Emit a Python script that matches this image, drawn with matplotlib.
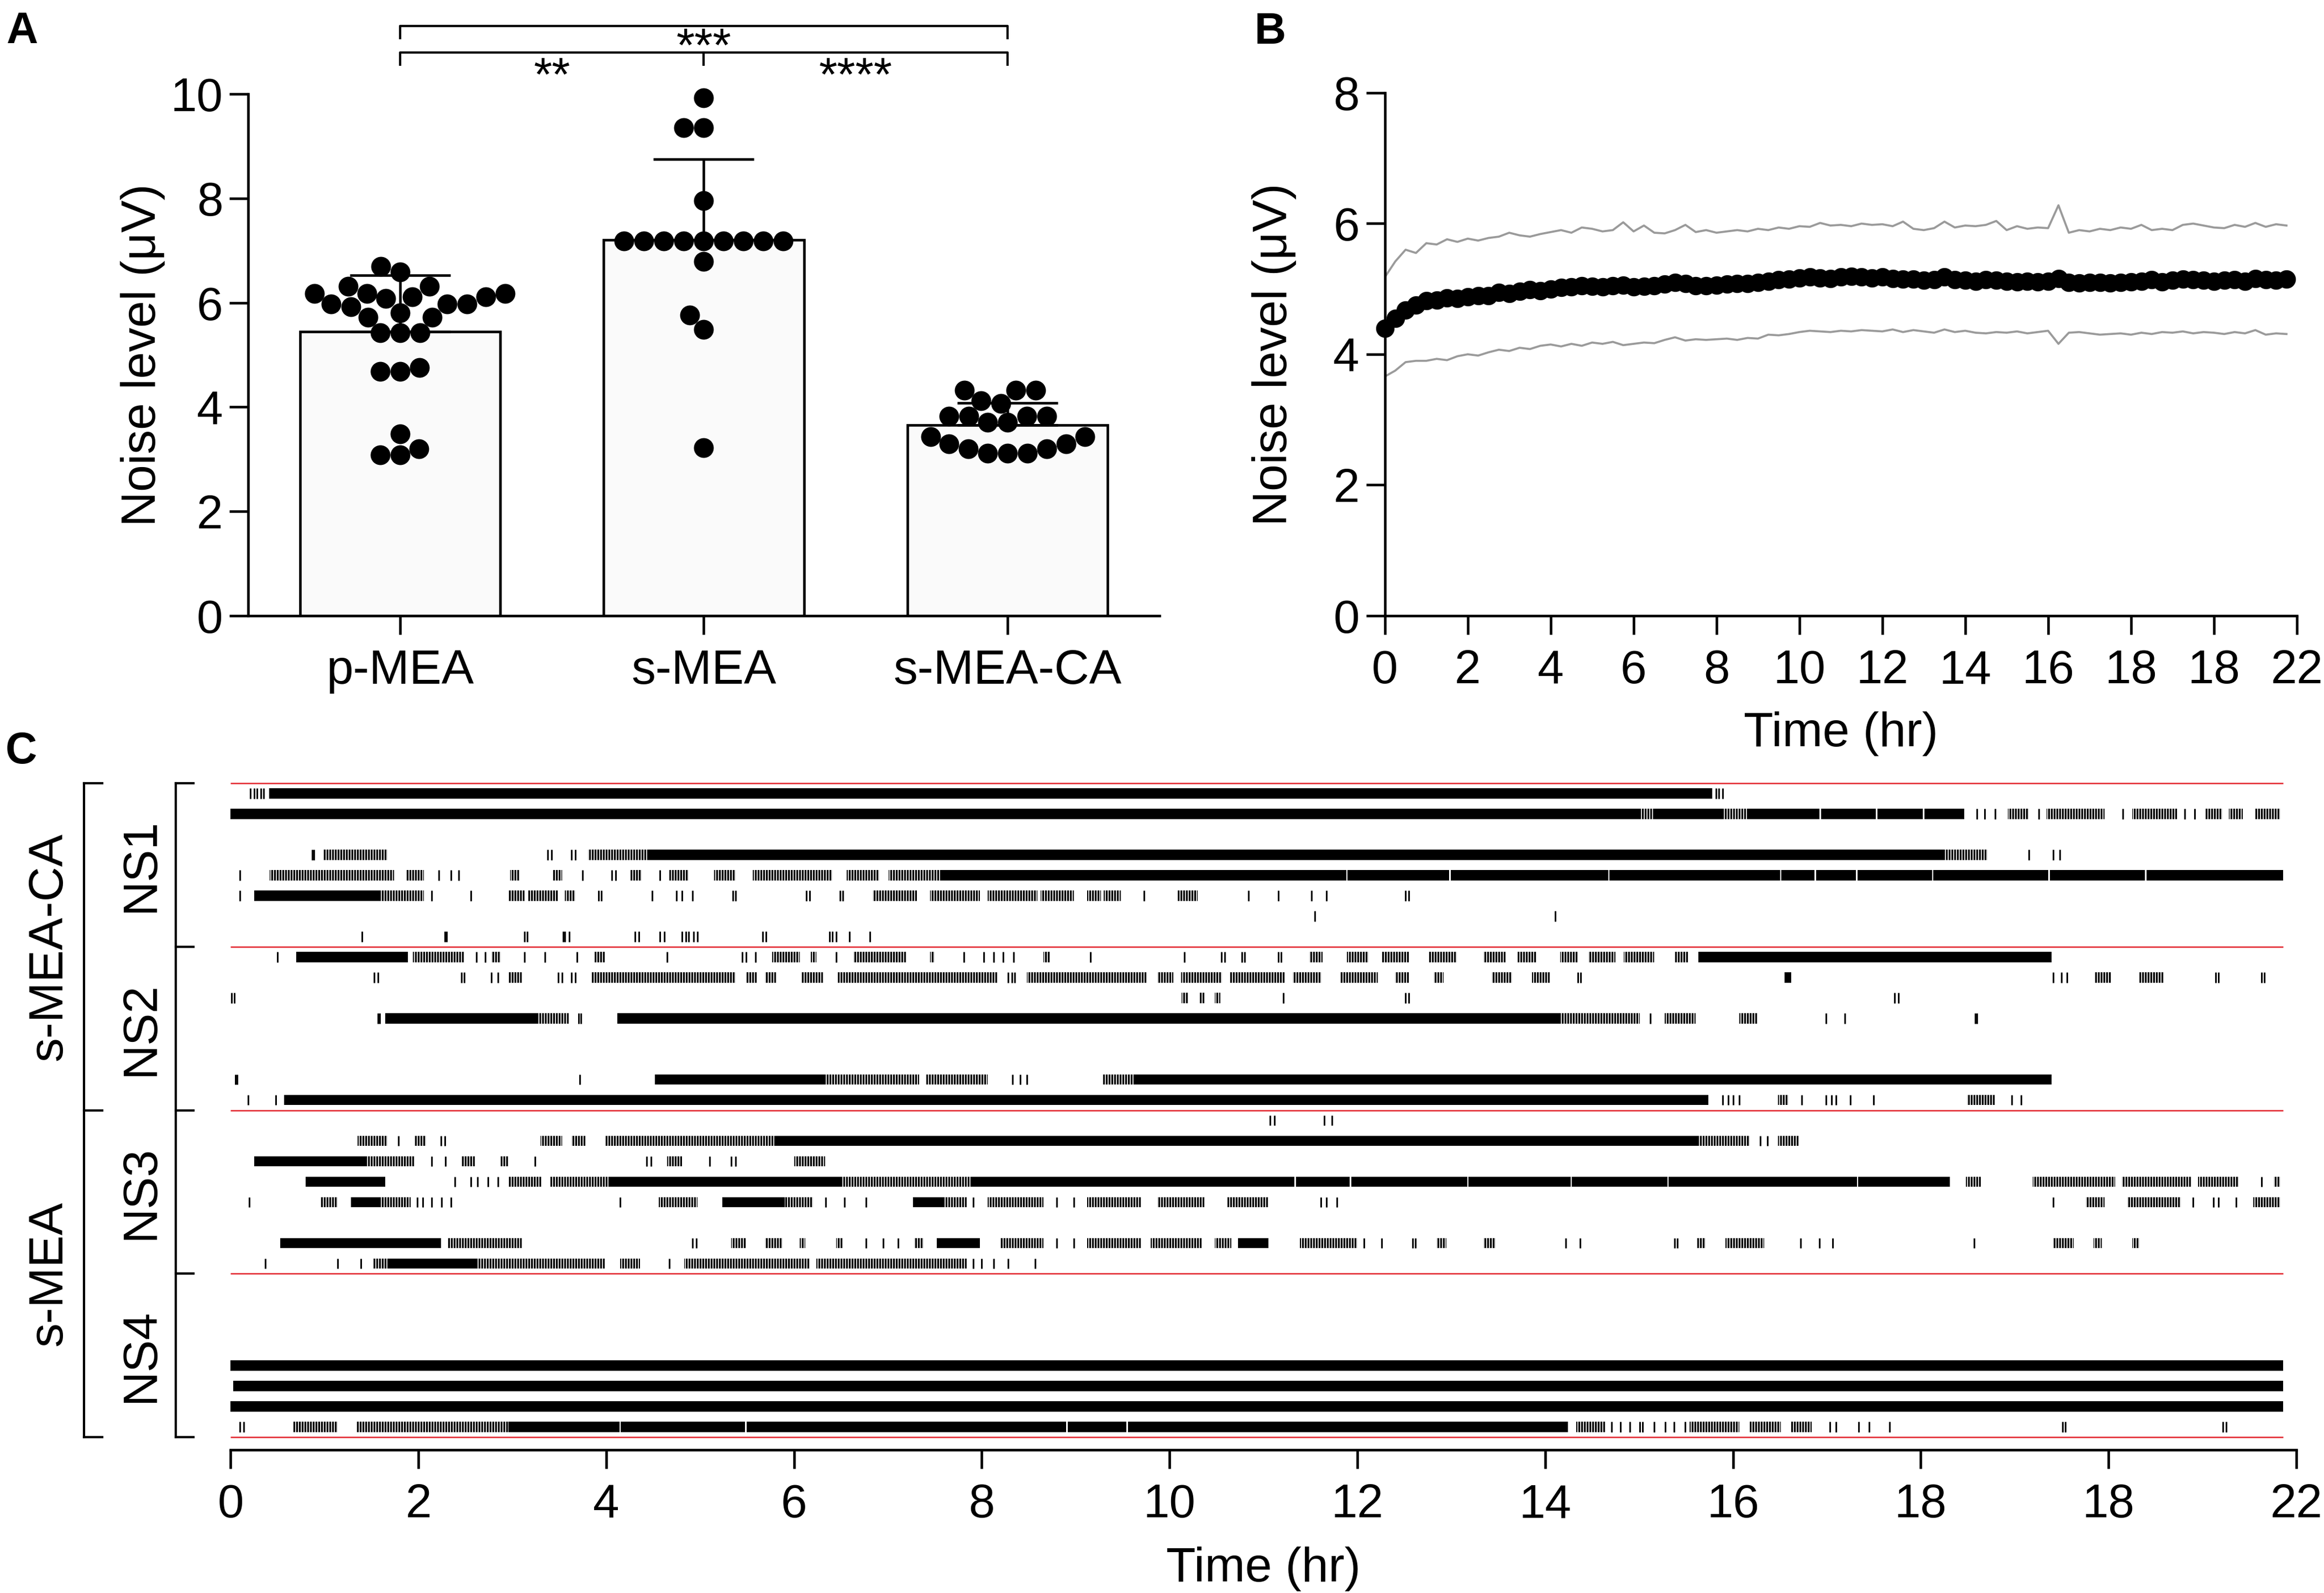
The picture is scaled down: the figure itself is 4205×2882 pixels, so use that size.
import numpy as np
import matplotlib
matplotlib.use("Agg")
import matplotlib.pyplot as plt
from matplotlib.lines import Line2D
import matplotlib.transforms as mtransforms

plt.rcParams['font.family'] = ['Liberation Sans', 'DejaVu Sans']
plt.rcParams['hatch.linewidth'] = 0.8

# ---------------- Panel A data ----------------
groups_a = ['p-MEA', 's-MEA', 's-MEA-CA']
p_mea = [6.70, 6.31, 5.97, 5.92, 6.18, 6.18, 6.11, 6.08, 6.11, 6.18, 6.31, 6.59,
         5.97, 5.97, 5.72, 5.72, 5.81, 5.42, 5.42, 5.42, 4.68, 4.68, 4.76,
         3.20, 3.08, 3.08, 3.48]
s_mea = [9.93, 9.35, 9.35, 7.96, 7.18, 7.18, 7.18, 7.18, 7.18, 7.18, 7.18, 7.18, 7.18,
         6.79, 5.76, 5.49, 3.22]
s_mea_ca = [4.32, 4.32, 4.32, 4.07, 4.12, 3.82, 3.82, 3.82, 3.82, 3.71, 3.71,
            3.43, 3.43, 3.29, 3.29, 3.20, 3.20, 3.11, 3.11, 3.11]
sig_labels = ['***', '**', '****']

# ---------------- Panel B data ----------------
t_step_hr = 0.25
noise_mean = [4.40, 4.55, 4.68, 4.75, 4.82, 4.83, 4.86, 4.85,
              4.88, 4.90, 4.90, 4.95, 4.93, 4.96, 4.99, 4.97,
              5.00, 5.02, 5.03, 5.05, 5.04, 5.03, 5.05, 5.06,
              5.03, 5.04, 5.05, 5.07, 5.10, 5.08, 5.05, 5.05,
              5.06, 5.07, 5.08, 5.08, 5.10, 5.12, 5.14, 5.15,
              5.17, 5.18, 5.17, 5.16, 5.18, 5.19, 5.18, 5.17,
              5.18, 5.16, 5.15, 5.15, 5.13, 5.14, 5.18, 5.14,
              5.13, 5.12, 5.14, 5.13, 5.12, 5.11, 5.12, 5.11,
              5.12, 5.16, 5.10, 5.09, 5.10, 5.10, 5.09, 5.10,
              5.11, 5.12, 5.14, 5.11, 5.13, 5.15, 5.14, 5.13,
              5.12, 5.13, 5.14, 5.12, 5.16, 5.14, 5.13, 5.15]
noise_upper = [5.18, 5.42, 5.60, 5.55, 5.70, 5.68, 5.76, 5.72,
               5.77, 5.74, 5.78, 5.80, 5.86, 5.82, 5.80, 5.84,
               5.87, 5.90, 5.86, 5.94, 5.92, 5.88, 5.90, 6.02,
               5.88, 5.97, 5.86, 5.85, 5.90, 5.98, 5.87, 5.90,
               5.86, 5.88, 5.90, 5.88, 5.92, 5.90, 5.94, 5.92,
               5.96, 5.95, 6.01, 5.97, 5.98, 5.96, 6.00, 5.98,
               5.99, 5.96, 6.03, 5.92, 5.90, 5.93, 6.03, 5.94,
               5.97, 5.96, 5.98, 6.04, 5.90, 5.96, 5.92, 5.94,
               5.93, 6.28, 5.86, 5.90, 5.88, 5.92, 5.90, 5.94,
               5.92, 5.98, 5.90, 5.92, 5.90, 5.98, 6.00, 5.97,
               5.94, 5.93, 5.98, 5.95, 6.01, 5.95, 5.99, 5.97]
noise_lower = [3.66, 3.75, 3.88, 3.90, 3.90, 3.93, 3.91, 3.97,
               4.00, 3.98, 4.03, 4.07, 4.05, 4.10, 4.08, 4.13,
               4.15, 4.12, 4.16, 4.13, 4.18, 4.16, 4.19, 4.14,
               4.16, 4.18, 4.17, 4.22, 4.26, 4.21, 4.23, 4.22,
               4.23, 4.24, 4.22, 4.25, 4.24, 4.30, 4.29, 4.31,
               4.34, 4.36, 4.35, 4.34, 4.36, 4.35, 4.37, 4.36,
               4.35, 4.38, 4.34, 4.37, 4.35, 4.33, 4.38, 4.34,
               4.36, 4.33, 4.32, 4.34, 4.33, 4.35, 4.32, 4.34,
               4.36, 4.16, 4.33, 4.34, 4.32, 4.30, 4.31, 4.32,
               4.30, 4.33, 4.31, 4.34, 4.33, 4.35, 4.32, 4.34,
               4.33, 4.31, 4.34, 4.32, 4.37, 4.30, 4.32, 4.31]
time_ticks = [0, 2, 4, 6, 8, 10, 12, 14, 16, 18, 20, 22]
time_ticklabels = ['0', '2', '4', '6', '8', '10', '12', '14', '16', '18', '18', '22']

# ---------------- Panel C data (hr) ----------------
rec_end_hr = 21.86
cond_labels = ['s-MEA-CA', 's-MEA']
ns_labels = ['NS1', 'NS2', 'NS3', 'NS4']

ns1_solid = [
    [(0.41, 15.78)],
    [(0.0, 15.0), (15.15, 15.9), (16.15, 16.92), (16.94, 17.52), (17.54, 18.02),
     (18.04, 18.46)],
    [],
    [(4.45, 18.24)],
    [(7.57, 11.88), (11.895, 12.98), (12.995, 14.67), (14.685, 16.50), (16.515, 16.87),
     (16.885, 17.31), (17.325, 18.12), (18.135, 19.36), (19.375, 20.39), (20.405, 21.86)],
    [(0.25, 1.60)],
    [],
    [],
]
ns1_burst = [
    [],
    [(15.0, 15.15), (15.9, 16.15), (18.93, 19.15), (19.34, 19.96), (20.25, 20.73),
     (21.03, 21.21), (21.28, 21.43), (21.56, 21.83)],
    [],
    [(0.99, 1.67), (3.81, 4.45), (18.24, 18.71)],
    [(0.42, 1.74), (1.87, 2.06), (2.98, 3.08), (3.43, 3.53), (4.26, 4.38), (4.67, 4.88),
     (5.15, 5.38), (5.56, 6.41), (6.56, 6.91), (7.01, 7.57)],
    [(1.60, 2.06), (2.96, 3.13), (3.17, 3.49), (3.56, 3.67), (6.84, 7.31), (7.45, 7.98),
     (8.06, 8.59), (8.63, 8.98), (9.12, 9.27), (9.30, 9.48), (10.09, 10.30)],
    [],
    [],
]
ns1_spikes = [
    [0.21, 0.25, 0.28, 0.32, 0.35, 15.82, 15.85, 15.89],
    [18.60, 18.68, 18.79, 19.26, 20.15, 20.81, 20.92],
    [],
    [0.87, 0.89, 3.38, 3.42, 3.63, 3.67, 19.15, 19.41, 19.48],
    [0.10, 2.22, 2.35, 2.43, 3.75, 4.06, 4.10, 4.57],
    [0.10, 2.14, 2.56, 3.92, 3.95, 4.49, 4.75, 4.81, 4.92, 5.35, 5.38, 6.13, 6.17, 6.49,
     6.52, 9.73, 10.84, 11.16, 11.51, 11.67, 12.51, 12.55],
    [11.55, 14.11],
    [1.40, 2.28, 2.30, 3.13, 3.16, 3.54, 3.56, 3.61, 4.31, 4.35, 4.57, 4.62, 4.81, 4.85,
     4.88, 4.93, 4.97, 5.67, 5.70, 6.38, 6.41, 6.45, 6.59, 6.81],
]

ns2_solid = [
    [(0.70, 1.89), (15.63, 19.39)],
    [(16.55, 16.62)],
    [],
    [(1.65, 3.28), (4.12, 14.16)],
    [],
    [],
    [(4.52, 6.33), (9.62, 19.39)],
    [(0.57, 15.74)],
]
ns2_burst = [
    [(1.94, 2.49), (2.78, 2.88), (3.88, 3.99), (5.77, 6.06), (6.18, 6.24), (6.63, 7.20),
     (7.45, 7.50), (8.66, 8.73), (11.49, 11.63), (11.89, 12.12), (12.26, 12.55),
     (12.76, 13.06), (13.34, 13.58), (13.71, 13.91), (14.16, 14.35), (14.46, 14.75),
     (14.84, 15.16), (15.38, 15.52)],
    [(2.96, 3.10), (3.85, 5.38), (5.49, 5.61), (5.69, 5.81), (6.08, 6.31), (6.47, 8.17),
     (8.48, 9.76), (9.87, 10.04), (10.12, 10.56), (10.64, 11.23), (11.31, 11.62),
     (11.82, 12.22), (12.40, 12.55), (12.81, 12.92), (13.43, 13.65), (13.86, 14.05),
     (19.85, 20.03), (20.33, 20.59)],
    [(10.13, 10.20), (10.32, 10.37), (10.48, 10.54)],
    [(3.28, 3.60), (14.16, 15.01), (15.27, 15.60), (16.07, 16.26)],
    [],
    [],
    [(6.33, 7.33), (7.41, 8.06), (9.29, 9.62)],
    [(16.48, 16.59), (18.49, 18.79)],
]
ns2_spikes = [
    [0.50, 2.62, 2.71, 3.13, 3.35, 3.69, 4.65, 5.45, 5.49, 5.59, 6.45, 7.81, 8.02, 8.13,
     8.23, 8.34, 9.16, 10.16, 10.55, 10.59, 10.77, 10.80, 11.16, 11.19],
    [1.53, 1.57, 2.46, 2.49, 2.78, 2.85, 3.49, 3.53, 3.63, 3.67, 8.28, 8.32, 8.35, 14.35,
     14.38, 19.41, 19.50, 19.56, 21.14, 21.17, 21.63, 21.66],
    [0.01, 0.04, 11.21, 12.51, 12.55, 17.72, 17.76],
    [1.57, 1.59, 3.71, 3.73, 15.12, 16.99, 17.19, 18.58, 18.60],
    [],
    [],
    [0.05, 0.07, 3.72, 8.33, 8.41, 8.48],
    [0.19, 0.48, 15.89, 15.95, 16.00, 16.07, 16.73, 16.99, 17.05, 17.10, 17.25, 17.50,
     18.97, 19.07],
]

ns3_solid = [
    [],
    [(5.81, 15.63)],
    [(0.25, 1.45)],
    [(0.80, 1.65), (4.03, 6.50), (7.90, 11.33), (11.345, 11.92), (11.935, 13.17),
     (13.185, 14.27), (14.285, 15.30), (15.315, 17.32), (17.335, 18.31)],
    [(1.28, 1.60), (5.24, 5.90), (7.27, 7.60)],
    [],
    [(0.53, 2.24), (7.52, 7.98), (10.73, 11.05)],
    [(1.67, 2.63)],
]
ns3_burst = [
    [],
    [(1.35, 1.67), (1.96, 2.08), (3.30, 3.53), (3.63, 3.78), (3.99, 5.81), (15.63, 16.18),
     (16.48, 16.70)],
    [(1.45, 1.96), (2.46, 2.60), (2.88, 2.96), (4.65, 4.81), (6.00, 6.33)],
    [(2.96, 3.31), (3.41, 4.03), (6.50, 7.90), (18.48, 18.64), (19.19, 20.07),
     (20.14, 20.88), (20.95, 21.39), (21.76, 21.83)],
    [(0.96, 1.14), (1.60, 1.92), (4.56, 4.97), (5.90, 6.20), (7.60, 7.84), (8.06, 8.66),
     (9.12, 9.70), (9.87, 10.37), (10.62, 11.05), (19.76, 19.96), (20.20, 20.77),
     (21.54, 21.83)],
    [],
    [(2.31, 3.10), (5.33, 5.49), (5.69, 5.88), (6.06, 6.12), (6.45, 6.52), (7.28, 7.38),
     (8.20, 8.66), (9.12, 9.70), (9.80, 10.34), (10.48, 10.66), (11.39, 12.00),
     (12.84, 12.95), (13.34, 13.47), (15.62, 15.71), (15.92, 16.33), (19.41, 19.63),
     (19.84, 19.93), (20.25, 20.33)],
    [(1.52, 1.67), (2.63, 3.99), (4.15, 4.36), (4.83, 6.17), (6.24, 7.84)],
]
ns3_spikes = [
    [11.07, 11.12, 11.65, 11.73],
    [1.79, 2.24, 2.28, 16.29, 16.37],
    [2.14, 2.29, 3.24, 4.43, 4.48, 5.10, 5.33, 5.38],
    [2.39, 2.56, 2.63, 2.74, 2.85, 21.63],
    [0.20, 1.99, 2.05, 2.14, 2.25, 2.35, 4.15, 6.34, 6.54, 6.77, 7.91, 8.80, 8.98, 11.61,
     11.67, 11.78, 19.41, 20.90, 21.12, 21.17, 21.36],
    [],
    [4.92, 4.96, 6.77, 6.95, 7.11, 8.80, 8.98, 12.07, 12.26, 12.59, 12.62, 14.22, 14.37,
     15.38, 15.41, 16.72, 16.92, 17.06, 18.57],
    [0.37, 1.14, 1.39, 4.67, 7.91, 8.00, 8.13, 8.28, 8.57],
]

ns4_solid = [[], [], [], [],
             [(0.0, 21.86)],
             [(0.03, 21.86)],
             [(0.0, 21.86)],
             [(2.96, 4.14), (4.155, 5.48), (5.495, 8.90), (8.915, 9.54), (9.555, 14.24)]]
ns4_burst = [[], [], [], [], [], [], [],
             [(0.67, 1.14), (1.34, 2.96), (14.33, 14.64), (15.54, 16.07), (16.18, 16.51),
              (16.62, 16.84)]]
ns4_spikes = [[], [], [], [], [], [], [],
              [0.10, 0.14, 14.71, 14.80, 14.90, 15.01, 15.04, 15.16, 15.28, 15.37, 15.49,
               17.03, 17.10, 17.34, 17.45, 17.67, 19.51, 19.54, 21.22, 21.25]]

# ================= Figure =================
W, H, DPI = 4205, 2882, 300
fig = plt.figure(figsize=(W / DPI, H / DPI), dpi=DPI)
FS = 20.5
LW = 1.1

axA = fig.add_axes([0.1068, 0.6135, 0.3921, 0.3275])
axB = fig.add_axes([0.5959, 0.6135, 0.3924, 0.3282])
axC = fig.add_axes([0.0992, 0.0899, 0.8889, 0.4222])

for ax in (axA, axB, axC):
    for s in ('top', 'right'):
        ax.spines[s].set_visible(False)
    for s in ('left', 'bottom'):
        ax.spines[s].set_linewidth(LW)
    ax.tick_params(width=LW, length=8.2, labelsize=FS, direction='out')
    ax.tick_params(axis='x', pad=6.3)
    ax.tick_params(axis='y', pad=2.8)

# ---------- Panel A ----------
axA.set_xlim(-0.5, 2.5)
axA.set_ylim(0, 10)
series_a = [p_mea, s_mea, s_mea_ca]
xpos = np.arange(len(groups_a))
means = [np.mean(v) for v in series_a]
sds = [np.std(v, ddof=1) for v in series_a]
axA.bar(xpos, means, width=0.66, color='#fafafa', edgecolor='black', linewidth=LW, zorder=1)
axA.errorbar(xpos, means, yerr=[np.zeros(3), sds], fmt='none', ecolor='black',
             elinewidth=LW, capsize=21.8, capthick=LW, zorder=2)


def swarm(ax, xc, vals, d_px):
    vals = np.asarray(vals, dtype=float)
    pts = ax.transData.transform(np.column_stack([np.full(len(vals), xc), vals]))
    order = np.argsort(vals, kind='stable')
    placed = []
    xs = np.zeros(len(vals))
    for i in order:
        x0, y0 = pts[i]
        cands = [0.0]
        for (px, py) in placed:
            dy = y0 - py
            if abs(dy) < d_px:
                dx = np.sqrt(d_px ** 2 - dy ** 2)
                cands += [px + dx - x0, px - dx - x0]
        cands = sorted(cands, key=lambda c: (round(abs(c), 6), c))
        for c in cands:
            if all((x0 + c - px) ** 2 + (y0 - py) ** 2 >= d_px ** 2 - 1e-6 for px, py in placed):
                placed.append((x0 + c, y0))
                xs[i] = ax.transData.inverted().transform((x0 + c, y0))[0]
                break
    return xs


for i, vals in enumerate(series_a):
    xs = swarm(axA, xpos[i], vals, 36.0)
    axA.scatter(xs, vals, s=8.6 ** 2, color='black', zorder=3, clip_on=False, linewidths=0)

axA.set_xticks(xpos)
axA.set_xticklabels(groups_a, fontsize=21)
axA.set_yticks([0, 2, 4, 6, 8, 10])
axA.set_ylabel('Noise level (μV)', fontsize=21)
axA.yaxis.set_label_coords(-0.091, 0.5)

# significance brackets
blw = 1.0
axA.plot([0, 0, 2, 2], [11.07, 11.30, 11.30, 11.07], color='black', lw=blw, clip_on=False)
axA.plot([0, 0, 2, 2], [10.56, 10.79, 10.79, 10.56], color='black', lw=blw, clip_on=False)
axA.plot([1, 1], [10.79, 10.56], color='black', lw=blw, clip_on=False)
axA.text(1, 10.63, sig_labels[0], ha='center', va='baseline', fontsize=20.5, clip_on=False)
axA.text(0.5, 10.06, sig_labels[1], ha='center', va='baseline', fontsize=20.5, clip_on=False)
axA.text(1.5, 10.06, sig_labels[2], ha='center', va='baseline', fontsize=20.5, clip_on=False)

# ---------- Panel B ----------
t_hr = np.arange(len(noise_mean)) * t_step_hr
axB.set_xlim(0, 22)
axB.set_ylim(0, 8)
axB.plot(t_hr, noise_upper, color='#9a9a9a', lw=0.9, zorder=2)
axB.plot(t_hr, noise_lower, color='#9a9a9a', lw=0.9, zorder=2)
axB.plot(t_hr, noise_mean, 'o', color='black', ms=8.0, mew=0, zorder=3, clip_on=False)
axB.set_xticks(time_ticks)
axB.set_xticklabels(time_ticklabels)
axB.set_yticks([0, 2, 4, 6, 8])
axB.set_ylabel('Noise level (μV)', fontsize=21)
axB.yaxis.set_label_coords(-0.097, 0.5)
axB.set_xlabel('Time (hr)', fontsize=21)
axB.xaxis.set_label_coords(0.5, -0.183)

# ---------- Panel C ----------
axC.set_xlim(0, 22)
axC.set_ylim(32.62, -0.3)
axC.spines['left'].set_visible(False)
axC.set_yticks([])
groups_c = [(ns1_solid, ns1_burst, ns1_spikes), (ns2_solid, ns2_burst, ns2_spikes),
            (ns3_solid, ns3_burst, ns3_spikes), (ns4_solid, ns4_burst, ns4_spikes)]
rows_per_group = 8
half = 0.25
for g, (solid, burst, spikes) in enumerate(groups_c):
    for r in range(rows_per_group):
        yc = g * rows_per_group + r + 0.5
        if solid[r]:
            axC.broken_barh([(a, b - a) for a, b in solid[r]], (yc - half, 2 * half),
                            facecolors='black', linewidth=0)
        if burst[r]:
            axC.broken_barh([(a, b - a) for a, b in burst[r]], (yc - half, 2 * half),
                            facecolors='none', edgecolors='black', linewidth=0,
                            hatch='|' * 10)
        if spikes[r]:
            axC.vlines(spikes[r], yc - half, yc + half, colors='black', linewidth=0.7)

n_groups = len(groups_c)
bounds = [g * rows_per_group for g in range(n_groups + 1)]
axC.hlines(bounds, 0, rec_end_hr, colors='#e3262e', linewidth=0.6, zorder=4)
axC.set_xticks(time_ticks)
axC.set_xticklabels(time_ticklabels)
axC.set_xlabel('Time (hr)', fontsize=21)
axC.xaxis.set_label_coords(0.5, -0.144)

# brackets and group labels on the left of panel C
blend = mtransforms.blended_transform_factory(fig.transFigure, axC.transData)
outer_x, outer_arm = 152 / W, 185 / W
inner_x, inner_arm = 318 / W, 350 / W
outer_b = [bounds[0], bounds[2], bounds[4]]
fig.add_artist(Line2D([outer_x, outer_x], [outer_b[0], outer_b[-1]], transform=blend,
                      color='black', lw=1.0))
for yb in outer_b:
    fig.add_artist(Line2D([outer_x, outer_arm], [yb, yb], transform=blend, color='black', lw=1.0))
fig.add_artist(Line2D([inner_x, inner_x], [bounds[0], bounds[-1]], transform=blend,
                      color='black', lw=1.0))
for yb in bounds:
    fig.add_artist(Line2D([inner_x, inner_arm], [yb, yb], transform=blend, color='black', lw=1.0))
for k, lab in enumerate(cond_labels):
    fig.text(89 / W, (outer_b[k] + outer_b[k + 1]) / 2, lab, transform=blend, rotation=90,
             ha='center', va='center', fontsize=21)
for k, lab in enumerate(ns_labels):
    fig.text(255 / W, (bounds[k] + bounds[k + 1]) / 2, lab, transform=blend, rotation=90,
             ha='center', va='center', fontsize=21)

# panel letters
fig.text(11 / W, 1 - 78 / H, 'A', fontsize=19, fontweight='bold', ha='left', va='baseline')
fig.text(2270 / W, 1 - 79 / H, 'B', fontsize=19, fontweight='bold', ha='left', va='baseline')
fig.text(10 / W, 1 - 1381 / H, 'C', fontsize=19, fontweight='bold', ha='left', va='baseline')

fig.savefig('out.png', dpi=DPI)
